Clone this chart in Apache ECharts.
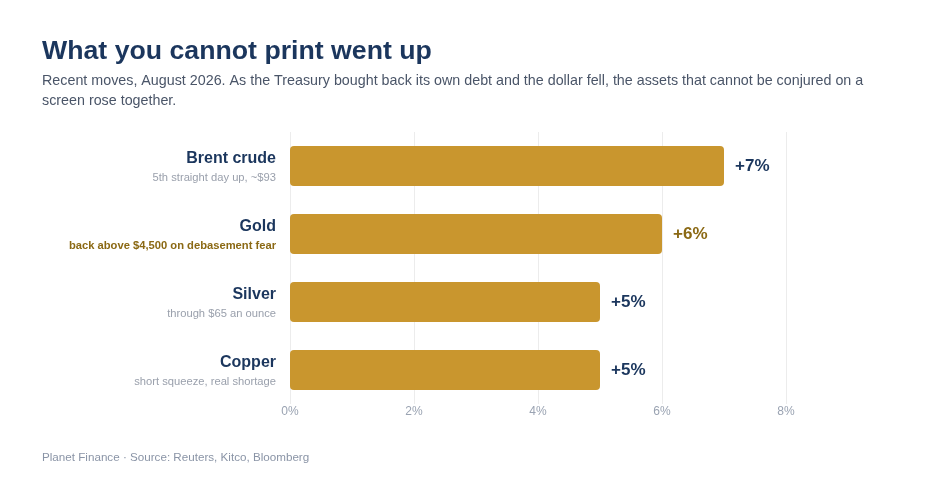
<!DOCTYPE html>
<html>
<head>
<meta charset="utf-8">
<script src="https://cdn.jsdelivr.net/npm/echarts@6/dist/echarts.min.js"></script>
<style>
  html, body { margin: 0; padding: 0; background: #fff; }
  #chart { width: 930px; height: 496px; }
</style>
</head>
<body>
<div id="chart"></div>
<script>
const categories = ['Brent crude', 'Gold', 'Silver', 'Copper'];
const notes = ['5th straight day up, ~$93', 'back above $4,500 on debasement fear', 'through $65 an ounce', 'short squeeze, real shortage'];
const values = [7, 6, 5, 5];
const highlight = 'Gold';
const xTicks = [0, 2, 4, 6, 8];

const NAVY = '#1b365d';
const GOLD = '#c9962e';
const GOLD_TEXT = '#8b6914';
const FONT = '"Liberation Sans", Arial, sans-serif';

const chart = echarts.init(document.getElementById('chart'));

const option = {
    backgroundColor: '#fff',
    textStyle: { fontFamily: FONT },
    title: [
        {
            text: 'What you cannot print went up',
            left: 42, top: 38, padding: 0,
            textStyle: { fontSize: 26.7, fontWeight: 'bold', color: NAVY, fontFamily: FONT }
        },
        {
            text: 'Recent moves, August 2026. As the Treasury bought back its own debt and the dollar fell, the assets that cannot be conjured on a screen rose together.',
            left: 42, top: 71, padding: 0,
            textStyle: { fontSize: 14.3, color: '#4a5568', fontWeight: 'normal', fontFamily: FONT, width: 830, overflow: 'break', lineHeight: 20 }
        },
        {
            text: 'Planet Finance · Source: Reuters, Kitco, Bloomberg',
            left: 42, top: 452, padding: 0,
            textStyle: { fontSize: 11.65, color: '#8a94a6', fontWeight: 'normal', fontFamily: FONT }
        }
    ],
    grid: { left: 290, top: 132, width: 496, height: 272 },
    xAxis: {
        type: 'value',
        min: xTicks[0],
        max: xTicks[xTicks.length - 1],
        interval: 2,
        axisLine: { show: false },
        axisTick: { show: false },
        axisLabel: { formatter: v => v + '%', color: '#9aa3b2', fontSize: 12, margin: 2 },
        splitLine: { lineStyle: { color: '#ececec', width: 1 } }
    },
    yAxis: {
        type: 'category',
        inverse: true,
        data: categories,
        axisLine: { show: false },
        axisTick: { show: false },
        axisLabel: {
            margin: 14,
            align: 'right',
            formatter: (name, i) => {
                const sub = name === highlight ? 'hi' : 'sub';
                return '{name|' + name + '}\n{' + sub + '|' + notes[i] + '}';
            },
            rich: {
                name: { fontSize: 16, fontWeight: 'bold', color: NAVY, lineHeight: 24, align: 'right', fontFamily: FONT },
                sub: { fontSize: 11.2, color: '#9aa0ac', lineHeight: 14, align: 'right', fontFamily: FONT },
                hi: { fontSize: 11.2, fontWeight: 'bold', color: GOLD_TEXT, lineHeight: 14, align: 'right', fontFamily: FONT }
            }
        }
    },
    series: [{
        type: 'bar',
        data: values.map((v, i) => ({
            value: v,
            label: { color: categories[i] === highlight ? GOLD_TEXT : NAVY }
        })),
        barWidth: 40,
        itemStyle: { color: GOLD, borderRadius: 4 },
        label: {
            show: true,
            position: 'right',
            distance: 11,
            formatter: p => '+' + p.value + '%',
            fontSize: 17,
            fontWeight: 'bold',
            fontFamily: FONT
        },
        silent: true
    }]
};

chart.setOption(option);
window.addEventListener('resize', () => chart.resize());
</script>
</body>
</html>
